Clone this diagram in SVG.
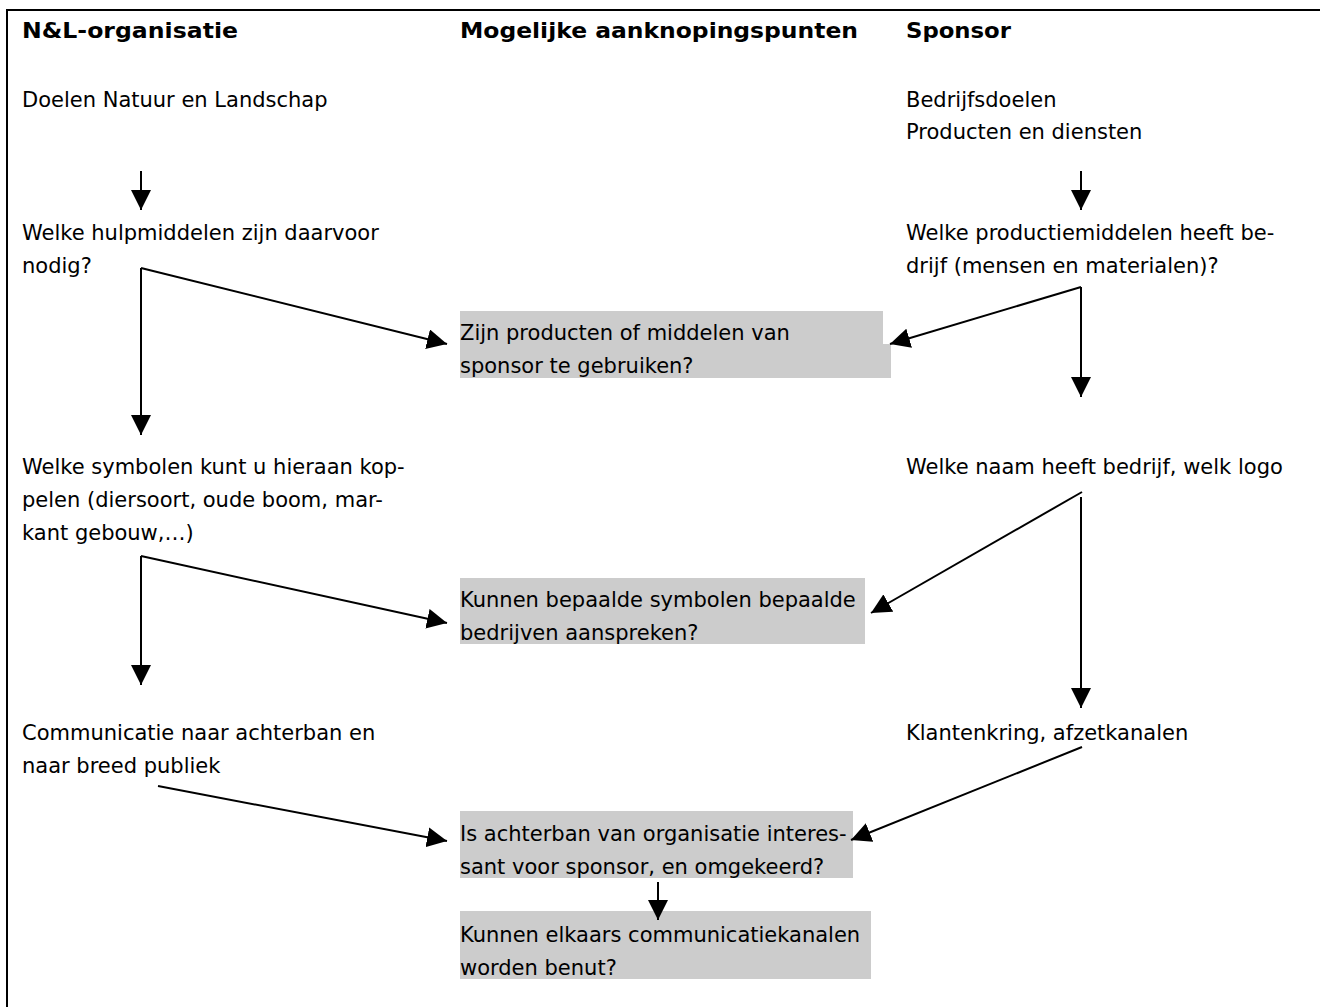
<svg xmlns="http://www.w3.org/2000/svg" width="1320" height="1007" viewBox="0 0 1320 1007">
  <style>
    text { font-family: "DejaVu Sans", Verdana, sans-serif; font-size: 21px; fill: #000; }
    .h { font-weight: bold; }
    .hl { fill: #cccccc; stroke: none; }
    .c { stroke: #000; stroke-width: 2; fill: none; marker-end: url(#ah); }
    .frame { stroke: #000; stroke-width: 2; fill: none; }
  </style>
  <defs>
    <marker id="ah" markerUnits="userSpaceOnUse" markerWidth="20" markerHeight="20" refX="20" refY="10" orient="auto" viewBox="0 0 20 20">
      <path d="M0,0 L20,10 L0,20 z" fill="#000"/>
    </marker>
  </defs>
  <rect x="0" y="0" width="1320" height="1007" fill="#fff"/>
  <path class="frame" d="M7,1007 V10 H1320"/>

  <g id="headers">
    <text class="h" x="22" y="38" textLength="216" lengthAdjust="spacingAndGlyphs">N&amp;L-organisatie</text>
    <text class="h" x="460" y="38" textLength="398" lengthAdjust="spacingAndGlyphs">Mogelijke aanknopingspunten</text>
    <text class="h" x="906" y="38" textLength="105" lengthAdjust="spacingAndGlyphs">Sponsor</text>
  </g>

  <g id="n-doelen">
    <text x="22" y="107">Doelen Natuur en Landschap</text>
  </g>
  <g id="n-bedrijfsdoelen">
    <text x="906" y="107">Bedrijfsdoelen</text>
    <text x="906" y="139">Producten en diensten</text>
  </g>
  <g id="n-hulpmiddelen">
    <text x="22" y="240">Welke hulpmiddelen zijn daarvoor</text>
    <text x="22" y="273">nodig?</text>
  </g>
  <g id="n-productiemiddelen">
    <text x="906" y="240">Welke productiemiddelen heeft be-</text>
    <text x="906" y="273">drijf (mensen en materialen)?</text>
  </g>
  <g id="n-producten-gebruiken">
    <rect class="hl" x="460" y="311" width="423" height="34"/>
    <rect class="hl" x="460" y="344" width="431" height="34"/>
    <text x="460" y="340">Zijn producten of middelen van</text>
    <text x="460" y="373">sponsor te gebruiken?</text>
  </g>
  <g id="n-symbolen">
    <text x="22" y="474">Welke symbolen kunt u hieraan kop-</text>
    <text x="22" y="507">pelen (diersoort, oude boom, mar-</text>
    <text x="22" y="540">kant gebouw,…)</text>
  </g>
  <g id="n-naam-logo">
    <text x="906" y="474">Welke naam heeft bedrijf, welk logo</text>
  </g>
  <g id="n-symbolen-aanspreken">
    <rect class="hl" x="460" y="578" width="405" height="66"/>
    <text x="460" y="607">Kunnen bepaalde symbolen bepaalde</text>
    <text x="460" y="640">bedrijven aanspreken?</text>
  </g>
  <g id="n-communicatie">
    <text x="22" y="740">Communicatie naar achterban en</text>
    <text x="22" y="773">naar breed publiek</text>
  </g>
  <g id="n-klantenkring">
    <text x="906" y="740">Klantenkring, afzetkanalen</text>
  </g>
  <g id="n-achterban-interessant">
    <rect class="hl" x="460" y="811" width="393" height="67"/>
    <text x="460" y="841">Is achterban van organisatie interes-</text>
    <text x="460" y="874">sant voor sponsor, en omgekeerd?</text>
  </g>
  <g id="n-communicatiekanalen">
    <rect class="hl" x="460" y="911" width="411" height="68"/>
    <text x="460" y="942">Kunnen elkaars communicatiekanalen</text>
    <text x="460" y="975">worden benut?</text>
  </g>

  <g id="connectors">
    <line class="c" x1="141" y1="171" x2="141" y2="210"/>
    <line class="c" x1="1081" y1="171" x2="1081" y2="210"/>
    <line class="c" x1="141" y1="268" x2="447" y2="344"/>
    <line class="c" x1="141" y1="268" x2="141" y2="435"/>
    <line class="c" x1="1081" y1="287" x2="890" y2="344"/>
    <line class="c" x1="1081" y1="287" x2="1081" y2="397"/>
    <line class="c" x1="141" y1="556" x2="447" y2="623"/>
    <line class="c" x1="141" y1="556" x2="141" y2="685"/>
    <line class="c" x1="1082" y1="492" x2="871" y2="613"/>
    <line class="c" x1="1081" y1="497" x2="1081" y2="708"/>
    <line class="c" x1="158" y1="786" x2="447" y2="841"/>
    <line class="c" x1="1082" y1="747" x2="851" y2="840"/>
    <line class="c" x1="658" y1="882" x2="658" y2="920"/>
  </g>
</svg>
